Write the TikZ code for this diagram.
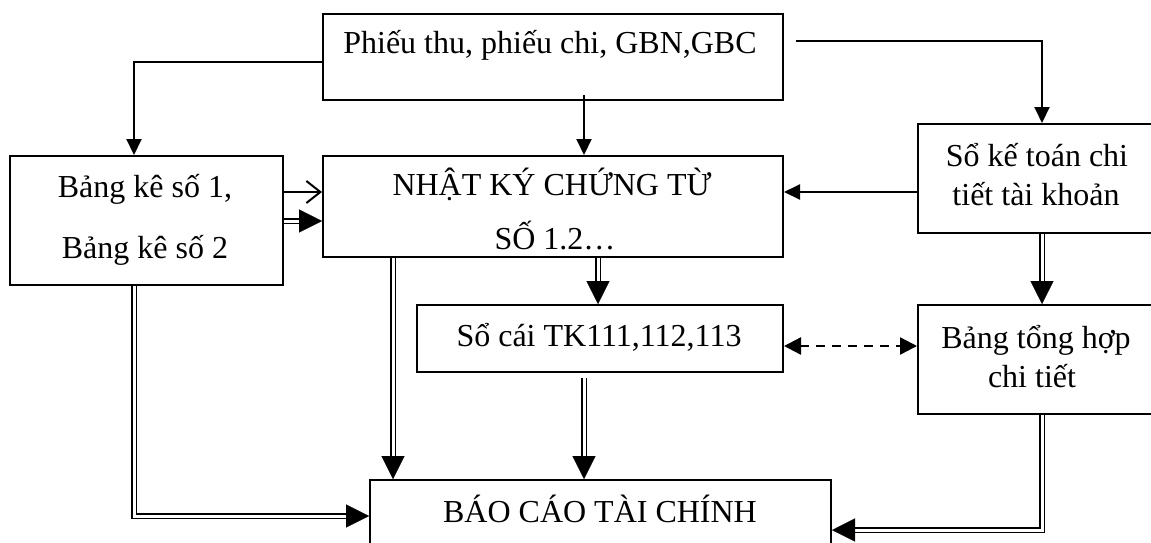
\documentclass[tikz,border=0pt]{standalone}
\usepackage{fontspec}
\setmainfont{Liberation Serif}
\usetikzlibrary{arrows.meta}
\newcommand\fs{\fontsize{32}{38}\selectfont}
% double connector: double line first, then the solid tip on top
\newcommand\dblconn[1]{%
  \draw[dbl, shorten >=21pt] #1;
  \draw[tipline] #1;}
\tikzset{
  box/.style={draw, line width=2pt, inner sep=0pt, anchor=north west},
  txt/.style={anchor=base, inner sep=0pt, font=\fs},
  conn/.style={line width=2pt, -{Triangle[length=16pt,width=15pt]}},
  dbl/.style={double, double distance=3pt, line width=1.7pt},
  tipline/.style={white, line width=0.2pt,
    -{Triangle[length=23pt,width=23pt,color=black,fill=black]}},
  barb/.style={line width=2pt, -{Straight Barb[length=14pt,width=22pt]}},
  dashconn/.style={line width=2.4pt, dash pattern=on 9pt off 7pt,
    {Triangle[length=17pt,width=17pt]}-{Triangle[length=17pt,width=17pt]}},
}
\begin{document}
\begin{tikzpicture}[x=1pt,y=-1pt]
\useasboundingbox (0,0) rectangle (1151,542);

% boxes
\node[box, minimum width=460pt, minimum height=86pt]  (t)   at (322,13)  {};
\node[box, minimum width=273pt, minimum height=129pt] (bk)  at (9,155)   {};
\node[box, minimum width=460pt, minimum height=101pt] (nk)  at (322,155) {};
\node[box, minimum width=238pt, minimum height=109pt] (s)   at (917,123) {};
\node[box, minimum width=366pt, minimum height=67pt]  (sc)  at (416,304) {};
\node[box, minimum width=238pt, minimum height=109pt] (bth) at (917,304) {};
\node[box, minimum width=461pt, minimum height=81pt]  (bc)  at (369,479) {};

% texts
\node[txt] (t1)   at (550,53)  {Phiếu thu, phiếu chi, GBN,GBC};
\node[txt] (bk1)  at (145,197) {Bảng kê số 1,};
\node[txt] (bk2)  at (145,258) {Bảng kê số 2};
\node[txt] (nk1)  at (552,195) {NHẬT KÝ CHỨNG TỪ};
\begin{scope}
  % the second line runs past the lower edge of the text area
  \clip (nk.north west) rectangle ([yshift=8pt]nk.south east);
  \node[txt] (nk2) at (555,249) {SỐ 1.2…};
\end{scope}
\node[txt] (s1)   at (1037,166) {Sổ kế toán chi};
\node[txt] (s2)   at (1036,205) {tiết tài khoản};
\node[txt] (sc1)  at (599,346) {Sổ cái TK111,112,113};
\node[txt] (bth1) at (1036,348) {Bảng tổng hợp};
\node[txt] (bth2) at (1032,387) {chi tiết};
\node[txt] (bc1)  at (600,522) {BÁO CÁO TÀI CHÍNH};

% connector end points
\coordinate (a1) at ([yshift=-49pt]t.north west);
\coordinate (a2) at ([xshift=125pt]bk.north west);
\coordinate (b1) at ([xshift=262pt,yshift=6pt]t.south west);
\coordinate (b2) at ([xshift=262pt]nk.north west);
\coordinate (c1) at ([xshift=12pt,yshift=-28pt]t.north east);
\coordinate (c2) at ([xshift=125pt]s.north west);
\coordinate (d1) at ([yshift=-69pt]s.north west);
\coordinate (e1) at ([yshift=-37pt]bk.north east);
\coordinate (f1) at ([yshift=-66pt]bk.north east);
\coordinate (g1) at ([xshift=71pt]nk.south west);
\coordinate (g2) at ([xshift=24pt]bc.north west);
\coordinate (h1) at ([xshift=276pt]nk.south west);
\coordinate (h2) at ([xshift=182pt]sc.north west);
\coordinate (i1) at ([xshift=168pt,yshift=-5pt]sc.south west);
\coordinate (i2) at ([xshift=215pt]bc.north west);
\coordinate (j1) at ([xshift=125pt]s.south west);
\coordinate (j2) at ([xshift=125pt]bth.north west);
\coordinate (k1) at ([xshift=125pt]bk.south west);
\coordinate (k2) at ([yshift=-37pt]bc.north west);
\coordinate (m1) at ([xshift=125pt]bth.south west);
\coordinate (m2) at ([yshift=-51pt]bc.north east);
\coordinate (n1) at ([yshift=-42pt]sc.north east);

% single connectors
\draw[conn] (a1) -| (a2);
\draw[conn] (b1) -- (b2);
\draw[conn] (c1) -| (c2);
\draw[conn] (d1) -- (d1 -| nk.east);
\draw[barb] (e1) -- (e1 -| nk.west);
\draw[dashconn] (n1) -- (n1 -| bth.west);

% double connectors
\dblconn{(f1) -- (f1 -| nk.west)}
\dblconn{(g1) -- (g2)}
\dblconn{(h1) -- (h2)}
\dblconn{(i1) -- (i2)}
\dblconn{(j1) -- (j2)}
\dblconn{(k1) |- (k2)}
\dblconn{(m1) |- (m2)}
\end{tikzpicture}
\end{document}
